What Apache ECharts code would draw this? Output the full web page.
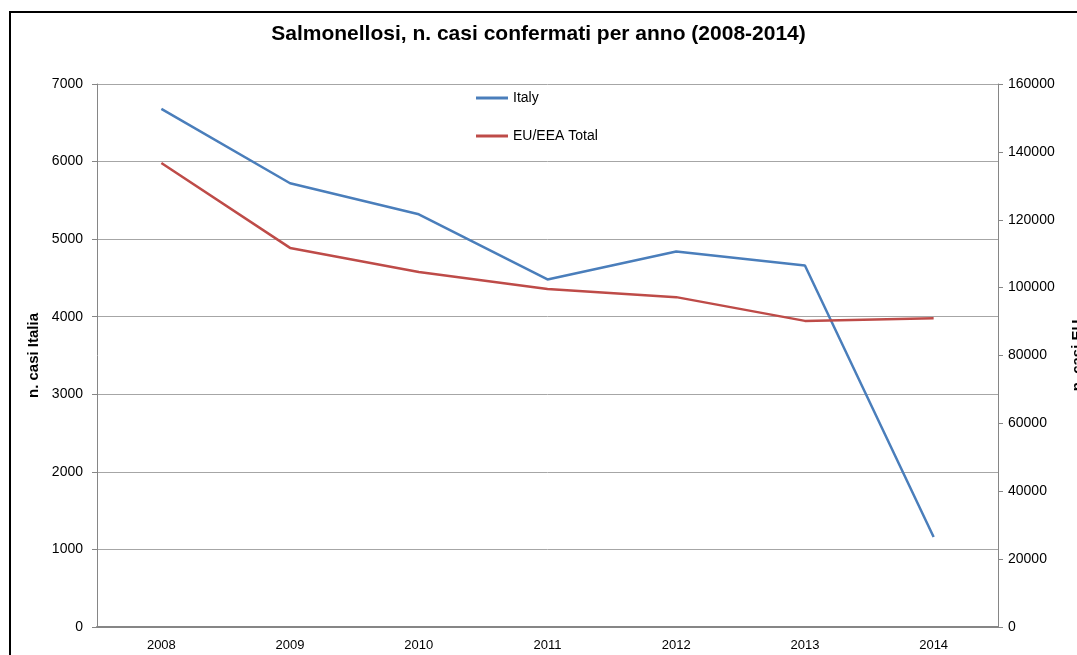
<!DOCTYPE html>
<html>
<head>
<meta charset="utf-8">
<script src="https://cdn.jsdelivr.net/npm/echarts@6/dist/echarts.min.js"></script>
<style>
  html, body { margin: 0; padding: 0; background: #fff; }
  #chart { width: 1077px; height: 655px; }
</style>
</head>
<body>
<div id="chart"></div>
<script>
// Confirmed salmonellosis cases per year
const years = ['2008', '2009', '2010', '2011', '2012', '2013', '2014'];
const italyCases = [6680, 5720, 5320, 4480, 4840, 4660, 1160];
const euCases = [136700, 111700, 104600, 99600, 97200, 90200, 91000];

const FONT = '"Liberation Sans", "Noto Sans", sans-serif';
const plain = v => String(v);

const chart = echarts.init(document.getElementById('chart'));
chart.setOption({
  backgroundColor: '#fff',
  animation: false,
  title: {
    text: 'Salmonellosi, n. casi confermati per anno (2008-2014)',
    left: 'center',
    top: 19,
    textStyle: { fontFamily: FONT, fontSize: 21, fontWeight: 'bold', color: '#000' }
  },
  graphic: [{
    type: 'rect',
    shape: { x: 10, y: 12, width: 1200, height: 800 },
    style: { fill: null, stroke: '#000', lineWidth: 2 },
    silent: true
  }],
  legend: {
    orient: 'vertical',
    left: 471,
    top: 86,
    itemGap: 24,
    itemWidth: 32,
    itemHeight: 3,
    icon: 'rect',
    textStyle: { fontFamily: FONT, fontSize: 14, color: '#000' },
    data: ['Italy', 'EU/EEA Total']
  },
  grid: { left: 97, right: 79, top: 84, bottom: 28, containLabel: false, outerBoundsMode: 'none' },
  xAxis: {
    type: 'category',
    data: years,
    boundaryGap: true,
    axisLine: { lineStyle: { color: '#868686', width: 2 } },
    axisTick: { show: false },
    axisLabel: { fontFamily: FONT, fontSize: 13, color: '#000', margin: 12 }
  },
  yAxis: [{
    type: 'value',
    min: 0, max: 7000, interval: 1000,
    name: 'n. casi Italia',
    nameLocation: 'middle',
    nameGap: 56,
    nameTextStyle: { fontFamily: FONT, fontSize: 15, fontWeight: 'bold', color: '#000' },
    axisLine: { show: true, lineStyle: { color: '#868686' } },
    axisTick: { show: true, length: 5, lineStyle: { color: '#868686' } },
    axisLabel: { fontFamily: FONT, fontSize: 14, color: '#000', margin: 14, formatter: plain },
    splitLine: { lineStyle: { color: '#a6a6a6', width: 1 } }
  }, {
    type: 'value',
    position: 'right',
    min: 0, max: 160000, interval: 20000,
    name: 'n. casi EU',
    nameLocation: 'middle',
    nameGap: 72,
    nameRotate: 90,
    nameTextStyle: { fontFamily: FONT, fontSize: 15, fontWeight: 'bold', color: '#000' },
    axisLine: { show: true, lineStyle: { color: '#868686' } },
    axisTick: { show: true, length: 5, lineStyle: { color: '#868686' } },
    axisLabel: { fontFamily: FONT, fontSize: 14, color: '#000', margin: 10, formatter: plain },
    splitLine: { show: false }
  }],
  series: [{
    name: 'Italy',
    type: 'line',
    yAxisIndex: 0,
    data: italyCases,
    symbol: 'none',
    lineStyle: { color: '#4a7ebb', width: 2.5 },
    itemStyle: { color: '#4a7ebb' }
  }, {
    name: 'EU/EEA Total',
    type: 'line',
    yAxisIndex: 1,
    data: euCases,
    symbol: 'none',
    lineStyle: { color: '#be4b48', width: 2.5 },
    itemStyle: { color: '#be4b48' }
  }]
});
</script>
</body>
</html>
